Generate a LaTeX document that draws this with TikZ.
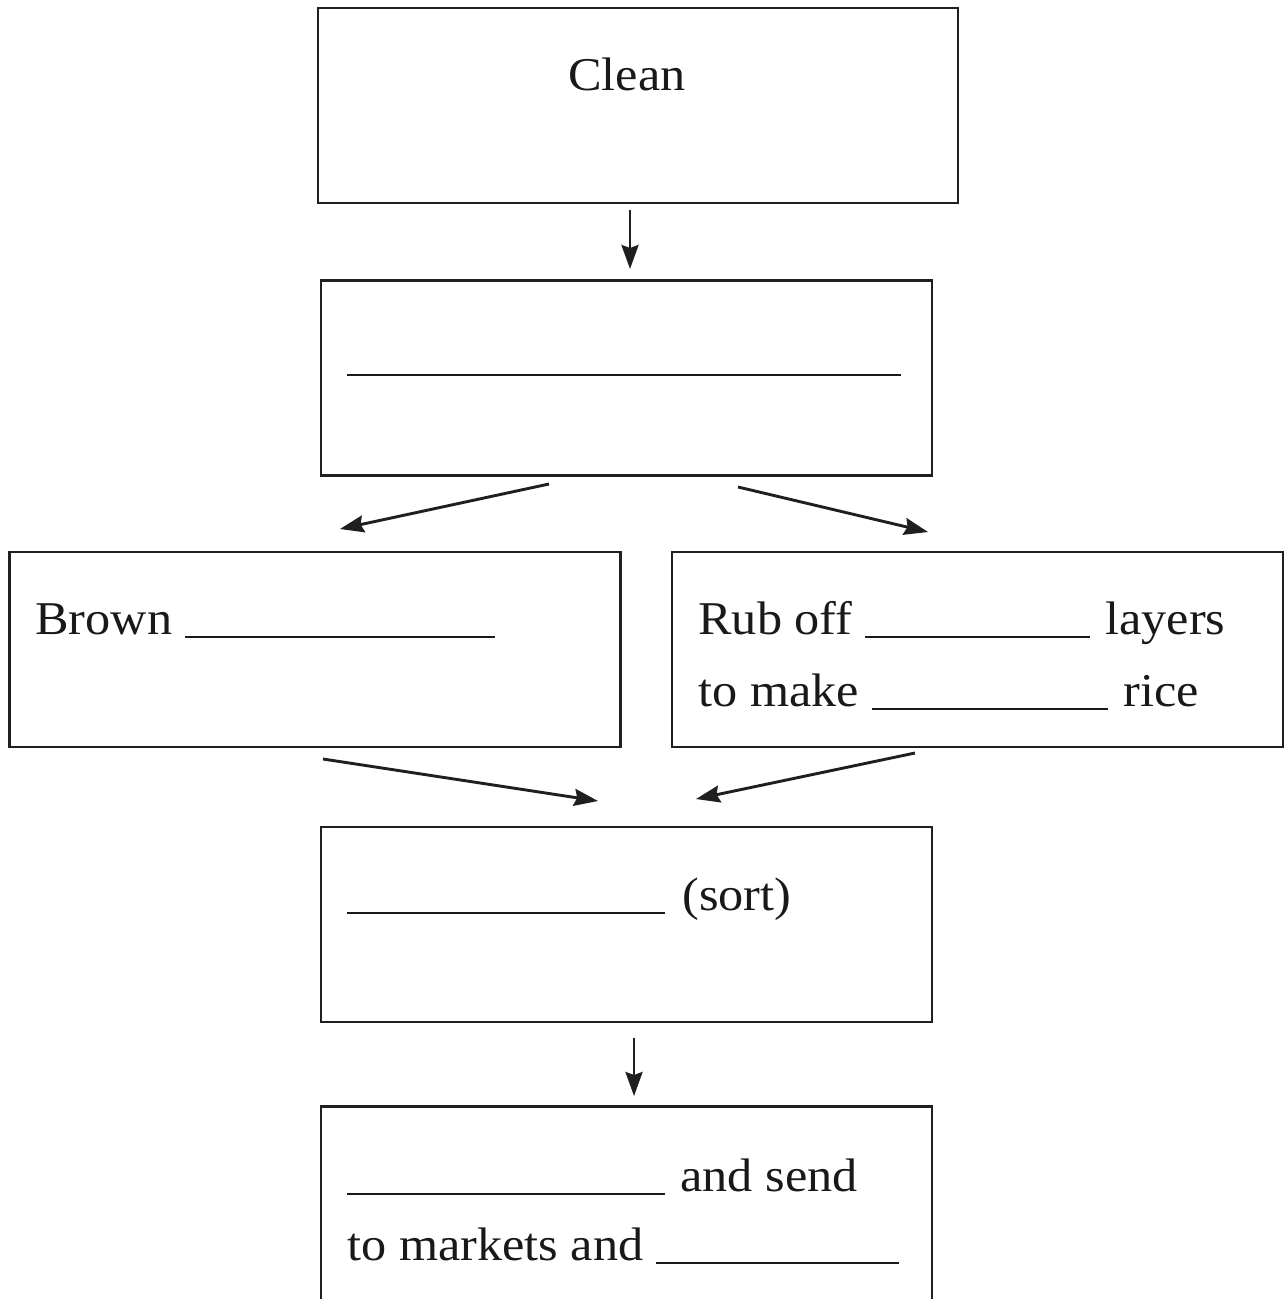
\documentclass[tikz,border=0pt]{standalone}
\usepackage{fontspec}
\setmainfont[FakeStretch=1.07]{Liberation Serif}
\usetikzlibrary{arrows.meta}
\newcommand{\blankline}[1]{\rule[-2pt]{#1}{1.1pt}}
\newcommand{\blankfill}{\leaders\hrule height -0.9pt depth 2pt\hfill\kern0pt}
\newcommand{\upto}[2]{\makebox[#1][l]{#2\ \blankfill}}
\begin{document}
\begin{tikzpicture}[x=0.5pt,y=-0.5pt,
  stepbox/.style={draw=black!88, line width=1.45pt, rectangle, inner sep=0pt,
                  minimum width=305.5pt, minimum height=97.5pt},
  lbl/.style={inner sep=0pt, anchor=base west, text=black!90,
              font=\fontsize{23.5}{28}\selectfont},
  flow/.style={line width=1.45pt, draw=black!88,
               -{Stealth[length=12pt,width=8.5pt,inset=1.5pt]}}]
\path[use as bounding box, clip] (0,0) rectangle (1287,1299);
\fill[white] (0,0) rectangle (1287,1299);

% boxes
\node[stepbox, minimum width=320pt] (clean) at (638,105.5) {};
\node[stepbox] (mill) at (626.5,378) {};
\node[stepbox] (brown) at (315,649.5) {};
\node[stepbox] (white) at (977.5,649.5) {};
\node[stepbox] (sort) at (626.5,924.5) {};
\node[stepbox, minimum height=147pt] (pack) at (626.5,1253.5) {};

% texts
\node[lbl, anchor=base] (tclean) at (627,91) {Clean};
\node[lbl] (tmill) at (347,372) {\blankline{277pt}};
\node[lbl] (tbrown) at (35,634) {\upto{230pt}{Brown}};
\node[lbl] (twhite1) at (698,634) {\upto{196pt}{Rub off}\hspace{7.5pt}layers};
\node[lbl] (twhite2) at (698,706) {\upto{205pt}{to make}\hspace{7.5pt}rice};
\node[lbl] (tsort) at (347,910) {\blankline{159pt}\hspace{8.5pt}(sort)};
\node[lbl] (tpack1) at (347,1191) {\blankline{159pt}\hspace{7.5pt}and send};
\node[lbl] (tpack2) at (347,1260) {\upto{276pt}{to markets and}};

% arrow end points
\coordinate (a1s) at (630,210);  \coordinate (a1e) at (630,269);
\coordinate (a2s) at (549,484);  \coordinate (a2e) at (340,529);
\coordinate (a3s) at (738,487);  \coordinate (a3e) at (928,532);
\coordinate (a4s) at (323,759);  \coordinate (a4e) at (598,801);
\coordinate (a5s) at (915,753);  \coordinate (a5e) at (696,799);
\coordinate (a6s) at (634,1038); \coordinate (a6e) at (634,1096);

\draw[flow] (a1s) -- (a1e);
\draw[flow] (a2s) -- (a2e);
\draw[flow] (a3s) -- (a3e);
\draw[flow] (a4s) -- (a4e);
\draw[flow] (a5s) -- (a5e);
\draw[flow] (a6s) -- (a6e);
\end{tikzpicture}
\end{document}
